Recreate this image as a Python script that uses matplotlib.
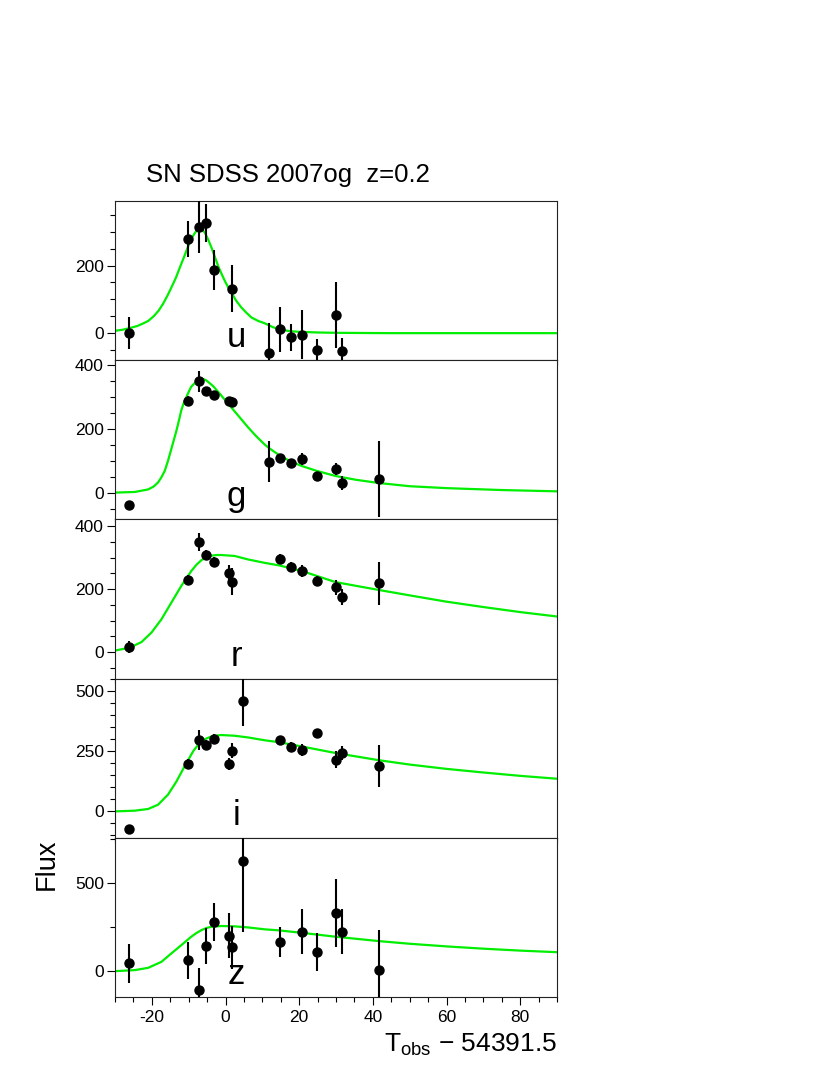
import matplotlib
matplotlib.use("Agg")
import matplotlib.pyplot as plt
from matplotlib.ticker import MultipleLocator

plt.rcParams['font.family'] = ['Liberation Sans', 'DejaVu Sans']
plt.rcParams['mathtext.fontset'] = 'custom'
plt.rcParams['mathtext.rm'] = 'Liberation Sans'
plt.rcParams['mathtext.it'] = 'Liberation Sans'
plt.rcParams['axes.unicode_minus'] = False

# ---------------- data ----------------
bands = ['u', 'g', 'r', 'i', 'z']

u_t = [-26.3, -10.3, -7.1, -5.3, -3.2, 1.8, 11.8, 14.9, 17.8, 20.9, 24.9, 29.9, 31.7]
u_flux = [0, 278, 315, 326, 188, 132, -59, 11, -12, -4, -51, 53, -52]
u_err = [47, 53, 77, 55, 59, 70, 90, 67, 40, 72, 33, 98, 39]

g_t = [-26.3, -10.3, -7.1, -5.3, -3.2, 0.9, 1.8, 11.8, 14.9, 17.8, 20.9, 24.9, 29.9, 31.7, 41.7]
g_flux = [-40, 288, 349, 318, 307, 286, 284, 97, 107, 92, 105, 52, 74, 29, 42]
g_err = [8, 15, 33, 12, 12, 12, 15, 65, 15, 12, 18, 12, 20, 22, 120]

r_t = [-26.3, -10.3, -7.1, -5.3, -3.2, 0.9, 1.8, 14.9, 17.8, 20.9, 24.9, 29.9, 31.7, 41.7]
r_flux = [16, 229, 350, 308, 286, 250, 224, 296, 271, 257, 225, 205, 176, 218]
r_err = [20, 15, 29, 15, 15, 25, 42, 15, 15, 20, 15, 25, 25, 67]

i_t = [-26.3, -10.3, -7.1, -5.3, -3.2, 0.9, 1.8, 4.7, 14.9, 17.8, 20.9, 24.9, 29.9, 31.7, 41.7]
i_flux = [-75, 199, 297, 278, 302, 199, 253, 458, 296, 267, 257, 325, 215, 242, 190]
i_err = [12, 20, 42, 20, 20, 25, 30, 104, 20, 20, 25, 20, 35, 30, 88]

z_t = [-26.3, -10.3, -7.1, -5.3, -3.2, 0.9, 1.8, 4.7, 14.9, 20.9, 24.9, 29.9, 31.7, 41.7]
z_flux = [44, 63, -108, 144, 280, 201, 135, 629, 167, 224, 110, 329, 224, 5]
z_err = [112, 105, 124, 102, 106, 128, 124, 405, 86, 128, 109, 194, 127, 228]

# model light curves
u_model_t = [-30, -28, -26, -24, -22.5, -21, -19.5, -18.2, -17.0, -15.8, -14.7, -13.5, -12.4, -11.2, -10.1, -9.2, -8.3, -7.6, -7.0, -6.3, -5.6, -4.7, -3.8, -2.9, -2.0, -1.1, -0.2, 0.7, 1.6, 2.9, 4.3, 5.7, 7.1, 8.9, 10.7, 12.8, 15, 17.5, 20, 25, 30, 37, 45, 60, 90]
u_model = [7, 10, 15, 21, 28, 36, 50, 66, 86, 110, 135, 163, 194, 227, 258, 280, 297, 306, 310, 306, 297, 277, 253, 226, 199, 176, 155, 136, 120, 96, 76, 60, 46, 36, 29, 18, 10, 6, 4, 2, 1, 0.5, 0, 0, 0]

g_model_t = [-30, -24.6, -21, -19.5, -18.3, -17.4, -16.5, -15.6, -14.7, -14.0, -13.3, -12.6, -12.0, -11.3, -10.6, -9.9, -9.3, -8.3, -7.4, -6.7, -6.1, -5.4, -4.7, -3.3, -2.0, 0.7, 3.4, 6.1, 8.4, 10.7, 12.0, 14.9, 17.8, 20.8, 24.8, 29.9, 35.5, 41.7, 50, 60, 75, 90]
g_model = [0, 2, 10, 19, 32, 48, 68, 100, 137, 166, 195, 228, 258, 282, 300, 318, 332, 344, 352, 355, 356, 353, 347, 333, 316, 279, 242, 205, 176, 150, 138, 115, 97, 83, 68, 52, 40, 30, 20, 14, 8, 4]

r_model_t = [-30, -26, -22.8, -20.1, -17.4, -14.7, -12, -9.3, -7.9, -6.5, -5.1, -3.8, -2.4, -1.1, 2.5, 6.1, 10.7, 14.6, 20.8, 29.9, 41.7, 50, 60, 70, 80, 90]
r_model = [5, 14, 32, 62, 104, 157, 210, 257, 277, 292, 301, 306, 308, 308, 305, 294, 283, 275, 257, 222, 197, 180, 160, 143, 127, 113]

i_model_t = [-30, -24.6, -21, -18.3, -15.6, -13.3, -11.1, -8.8, -7.6, -6.5, -5.1, -3.8, -2.4, -1.1, 2.5, 6.1, 10.7, 14.6, 20.8, 29.9, 41.7, 50, 60, 70, 80, 90]
i_model = [0, 3, 10, 28, 70, 125, 188, 250, 274, 292, 304, 312, 316, 318, 315, 308, 296, 288, 270, 243, 213, 195, 177, 162, 148, 136]

z_model_t = [-30, -24.6, -21, -17.4, -14.7, -12, -9.3, -7.9, -6.5, -5.1, -3.8, -1.1, 2.5, 6.1, 10.7, 14.6, 20.8, 29.9, 41.7, 50, 60, 70, 80, 90]
z_model = [0, 6, 19, 53, 101, 148, 196, 217, 234, 246, 253, 257, 255, 249, 238, 232, 218, 196, 171, 156, 141, 128, 117, 108]

x_ticks = [-20, 0, 20, 40, 60, 80]
title = "SN SDSS 2007og  z=0.2"

panels = [
    (u_t, u_flux, u_err, u_model_t, u_model, (-80, 391), 200, 50),
    (g_t, g_flux, g_err, g_model_t, g_model, (-84, 415), 200, 50),
    (r_t, r_flux, r_err, r_model_t, r_model, (-84, 421), 200, 50),
    (i_t, i_flux, i_err, i_model_t, i_model, (-110, 553), 250, 50),
    (z_t, z_flux, z_err, z_model_t, z_model, (-147, 759), 500, 250),
]

# ---------------- figure ----------------
W, H = 830, 1075
fig = plt.figure(figsize=(W / 100, H / 100), dpi=100)
left = 115 / W
width = 442 / W
top_px = 201
ph = 159.2

for k, (band, p) in enumerate(zip(bands, panels)):
    t, f, e, mt, mf, ylim, major, minor = p
    bottom = 1 - (top_px + (k + 1) * ph) / H
    ax = fig.add_axes([left, bottom, width, ph / H])
    ax.plot(mt, mf, color='#00ee00', lw=1.6, zorder=2, solid_joinstyle='round')
    ax.errorbar(t, f, yerr=e, fmt='o', color='black', ms=6.5,
                elinewidth=1.5, capsize=0, zorder=3)
    ax.set_xlim(-30, 90)
    ax.set_ylim(*ylim)
    ax.xaxis.set_major_locator(MultipleLocator(20))
    ax.xaxis.set_minor_locator(MultipleLocator(5))
    ax.yaxis.set_major_locator(MultipleLocator(major))
    ax.yaxis.set_minor_locator(MultipleLocator(minor))
    ax.tick_params(which='major', direction='out', length=6, width=0.8,
                   labelsize=12.5, pad=2)
    ax.tick_params(which='minor', direction='out', length=3.5, width=0.8)
    ax.tick_params(axis='x', labelbottom=(k == len(bands) - 1), pad=3)
    for s in ax.spines.values():
        s.set_linewidth(0.8)
        s.set_color('#222222')
    ax.text(0.275, 0.082, band, transform=ax.transAxes, ha='center',
            va='baseline', fontsize=25)
    if k == len(bands) - 1:
        ax.set_xticks(x_ticks)

fig.text(287.5 / W, 1 - 182 / H, title, ha='center', va='baseline', fontsize=18.5)
fig.text(557 / W, 1 - 1052 / H, r'$\mathrm{T_{obs}}$ $-$ 54391.5', ha='right',
         va='baseline', fontsize=19)
fig.text(47 / W, 1 - 864 / H, 'Flux', rotation=90, ha='center', va='center',
         fontsize=19.5)

fig.savefig('out.png', dpi=100)
